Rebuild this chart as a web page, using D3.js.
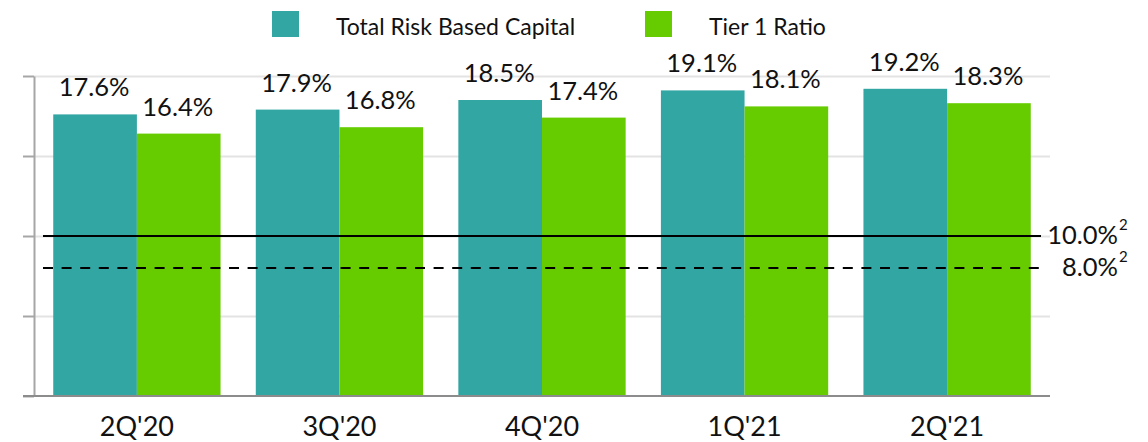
<!DOCTYPE html>
<html>
<head>
<meta charset="utf-8">
<script src="https://cdn.jsdelivr.net/npm/d3@7"></script>
<style>
  html, body { margin: 0; padding: 0; background: #fff; }
  svg { display: block; font-family: Lato, "Open Sans", sans-serif; }
</style>
</head>
<body>
<svg id="chart" width="1148" height="442"></svg>
<script>
// Capital ratios by quarter
const categories = ["2Q'20", "3Q'20", "4Q'20", "1Q'21", "2Q'21"];
const totalRiskBased = [17.6, 17.9, 18.5, 19.1, 19.2];
const tier1Ratio = [16.4, 16.8, 17.4, 18.1, 18.3];
const seriesNames = ["Total Risk Based Capital", "Tier 1 Ratio"];
const seriesColors = ["#32a6a3", "#66cc00"];
// Regulatory thresholds drawn as reference lines
const thresholdValues = [10.0, 8.0];
const thresholdLabels = ["10.0%", "8.0%"];
const thresholdNote = "2";
const yTicks = [0, 5, 10, 15, 20];

const svg = d3.select("#chart");
const plotLeft = 34, plotRight = 1050, plotBottom = 396, plotTop = 76;

const x = d3.scaleBand().domain(categories).range([plotLeft, plotRight])
  .paddingInner(0.174).paddingOuter(0.095);
const xs = d3.scaleBand().domain(seriesNames).range([0, x.bandwidth()]).padding(0);
const y = d3.scaleLinear().domain([0, 20]).range([plotBottom, plotTop]);

// gridlines
const grid = svg.append("g").attr("transform", `translate(${plotLeft},0)`)
  .call(d3.axisLeft(y).tickValues(yTicks.slice(1)).tickSize(-(plotRight - plotLeft)).tickFormat(""));
grid.select(".domain").remove();
grid.selectAll("line").attr("stroke", "#e3e3e3").attr("stroke-width", 2);

// y axis (ticks only, no labels)
const yAxis = svg.append("g").attr("transform", `translate(${plotLeft},0)`)
  .call(d3.axisLeft(y).tickValues(yTicks).tickSize(11).tickSizeOuter(0).tickFormat(""));
yAxis.select(".domain").attr("stroke", "#a6a6a6").attr("stroke-width", 2);
yAxis.selectAll("line").attr("stroke", "#a6a6a6").attr("stroke-width", 2);

// bars
const rows = categories.map((c, i) => ({ cat: c, vals: [totalRiskBased[i], tier1Ratio[i]] }));
const groups = svg.append("g").selectAll("g").data(rows).join("g")
  .attr("transform", d => `translate(${x(d.cat)},0)`);
groups.selectAll("rect").data(d => d.vals.map((v, j) => ({ v, s: seriesNames[j], j }))).join("rect")
  .attr("x", d => xs(d.s))
  .attr("width", xs.bandwidth())
  .attr("y", d => y(d.v))
  .attr("height", d => y(0) - y(d.v))
  .attr("fill", d => seriesColors[d.j]);

groups.selectAll("text").data(d => d.vals.map((v, j) => ({ v, s: seriesNames[j] }))).join("text")
  .attr("x", d => xs(d.s) + xs.bandwidth() / 2 - 1)
  .attr("y", d => y(d.v) - 18)
  .attr("text-anchor", "middle")
  .attr("font-size", 25.5)
  .attr("fill", "#111")
  .text(d => d.v.toFixed(1) + "%");

// x axis baseline and category labels
const xAxis = svg.append("g").attr("transform", `translate(0,${plotBottom})`)
  .call(d3.axisBottom(x).tickSize(0).tickSizeOuter(0));
xAxis.select(".domain").attr("stroke", "#8c8c8c").attr("stroke-width", 2)
  .attr("d", `M${plotLeft - 11},0H${plotRight}`);
xAxis.selectAll("text").attr("y", 40).attr("dy", 0)
  .attr("font-size", 27).attr("fill", "#111").attr("font-family", "Lato, sans-serif");

// threshold lines
const lineStart = 43, lineEnd = 1041;
thresholdValues.forEach((v, i) => {
  svg.append("line")
    .attr("x1", lineStart).attr("x2", lineEnd)
    .attr("y1", y(v)).attr("y2", y(v))
    .attr("stroke", "#000").attr("stroke-width", 2)
    .attr("stroke-dasharray", i === 0 ? null : "10,8.6");
  svg.append("text")
    .attr("x", 1118).attr("y", y(v) + 8)
    .attr("text-anchor", "end")
    .attr("font-size", 25.5).attr("fill", "#111")
    .text(thresholdLabels[i]);
  svg.append("text")
    .attr("x", 1119).attr("y", y(v) - 6)
    .attr("font-size", 15).attr("fill", "#111")
    .text(thresholdNote);
});

// legend
const legendX = [272, 645];
const legendTextX = [336, 709];
seriesNames.forEach((name, i) => {
  svg.append("rect").attr("x", legendX[i]).attr("y", 11).attr("width", 27).attr("height", 26)
    .attr("fill", seriesColors[i]);
  svg.append("text").attr("x", legendTextX[i]).attr("y", 35)
    .attr("font-size", 23).attr("fill", "#111").text(name);
});
</script>
</body>
</html>
